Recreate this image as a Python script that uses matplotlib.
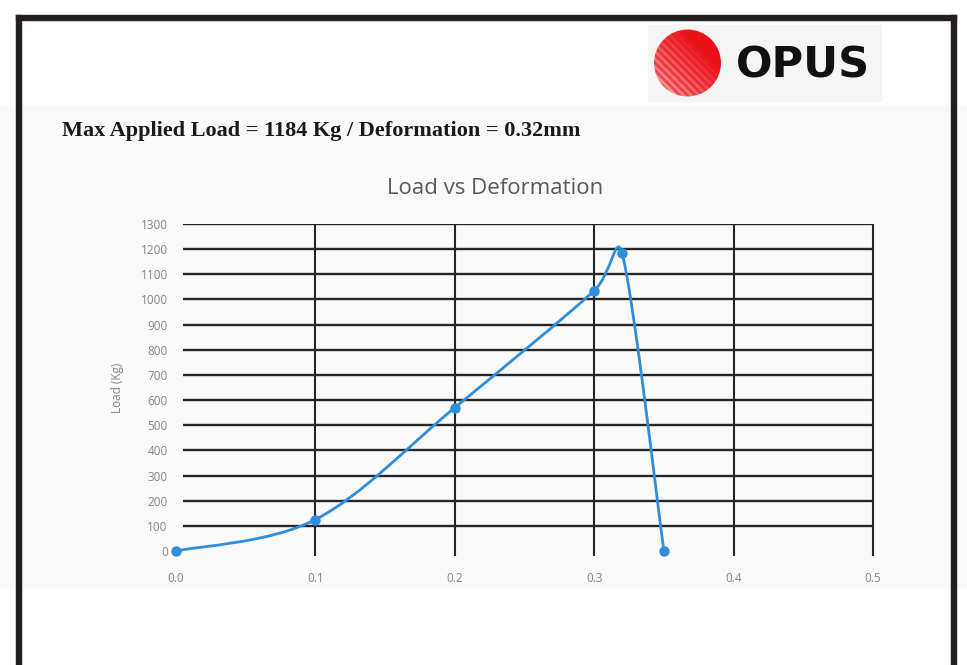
import numpy as np
import matplotlib
matplotlib.use("Agg")
import matplotlib.pyplot as plt
from matplotlib.path import Path
from matplotlib.patches import PathPatch, Rectangle, Circle
from matplotlib.lines import Line2D

# ---- data ----
deformation = [0.0, 0.1, 0.2, 0.3, 0.32, 0.35]
load = [0, 125, 570, 1035, 1184, 0]
x_ticks = [0.0, 0.1, 0.2, 0.3, 0.4, 0.5]
x_tick_labels = ["0.0", "0.1", "0.2", "0.3", "0.4", "0.5"]
y_ticks = list(range(0, 1400, 100))
y_tick_labels = [str(v) for v in y_ticks]
chart_title = "Load vs Deformation"
y_label = "Load (Kg)"
header = "Max Applied Load = 1184 Kg / Deformation = 0.32mm"
logo_text = "OPUS"

W, H = 967, 665
fig = plt.figure(figsize=(W / 100, H / 100), dpi=100)
fig.patch.set_facecolor("white")

def fx(px):
    return px / W

def fy(py):
    return 1 - py / H

# pasted region background
fig.patches.append(Rectangle((0, fy(588)), 1, fy(105) - fy(588), transform=fig.transFigure,
                             facecolor="#fafafa", edgecolor="none", zorder=-2))
# logo background
fig.patches.append(Rectangle((fx(648), fy(102)), fx(882) - fx(648), fy(25) - fy(102),
                             transform=fig.transFigure, facecolor="#f5f5f5", edgecolor="none", zorder=-2))

# border frame
bc = "#231f20"
lw = 4.6
for xs, ys in [([fx(19), fx(19)], [fy(18), -0.01]),
               ([fx(953.5), fx(953.5)], [fy(18), -0.01]),
               ([fx(19), fx(953.5)], [fy(18), fy(18)])]:
    fig.add_artist(Line2D(xs, ys, transform=fig.transFigure, color=bc, lw=lw,
                          solid_capstyle="projecting"))

# logo: red sphere with gradient + stripes
lax = fig.add_axes([fx(653), fy(98), fx(722) - fx(653), fy(28) - fy(98)])
lax.set_xlim(-1, 1)
lax.set_ylim(-1, 1)
lax.axis("off")
n = 300
gx, gy = np.meshgrid(np.linspace(-1, 1, n), np.linspace(-1, 1, n))
d = (gx + gy) / 2.0
t = np.clip((d + 0.8) / 1.2, 0, 1)
stripes = 0.5 + 0.5 * np.sin((gx + gy) * 28)
fade = np.clip(1 - t, 0, 1)
white_mix = fade * (0.25 + 0.6 * stripes) * 0.85
red = np.array([0.92, 0.07, 0.10])
img = red[None, None, :] * (1 - white_mix[..., None]) + white_mix[..., None] * np.array([1, 0.93, 0.93])
im = lax.imshow(img, extent=(-1, 1, -1, 1), origin="lower", interpolation="bilinear")
clip = Circle((0, 0), 0.97, transform=lax.transData)
im.set_clip_path(clip)
fig.text(fx(803), fy(66), logo_text, ha="center", va="center", fontsize=31, fontweight="bold",
         family="DejaVu Sans", color="#111111")

# header
fig.text(fx(62), fy(131), header, ha="left", va="center", fontsize=16, fontweight="bold",
         family="Liberation Serif", color="#1a1a1a")

# title
fig.text(fx(495), fy(188), chart_title, ha="center", va="center", fontsize=16,
         family="Open Sans", color="#595959")

# axes
ax = fig.add_axes([fx(176), fy(551), fx(873) - fx(176), fy(224) - fy(551)])
ax.set_facecolor("none")
ax.set_xlim(0, 0.5)
ax.set_ylim(0, 1300)
for s in ax.spines.values():
    s.set_visible(False)
ax.set_xticks(x_ticks)
ax.set_xticklabels(x_tick_labels)
ax.set_yticks(y_ticks)
ax.set_yticklabels(y_tick_labels)
ax.tick_params(length=0, labelsize=8.5, labelcolor="#858585")
ax.tick_params(axis="y", pad=6)
ax.tick_params(axis="x", pad=15)
for lab in ax.get_xticklabels() + ax.get_yticklabels():
    lab.set_family("Open Sans")
ax.set_ylabel(y_label, fontsize=8.5, color="#858585", family="Open Sans", labelpad=12)

gc = "#262626"
ax.hlines(y_ticks[1:], 0.005, 0.5, colors=gc, lw=1.7, zorder=1)
ax.vlines(x_ticks[1:], -20, 1300, colors=gc, lw=1.5, zorder=1, clip_on=False)

# smoothed line (Excel-like Bezier), computed in display space
fig.canvas.draw()
P = ax.transData.transform(np.column_stack([deformation, load]))
npts = len(P)
verts = [P[0]]
codes = [Path.MOVETO]

def tangent(i):
    a = P[max(i - 1, 0)]
    b = P[min(i + 1, npts - 1)]
    return (b - a) / 6.0

for i in range(npts - 1):
    seg = np.linalg.norm(P[i + 1] - P[i])
    t0 = tangent(i)
    t1 = tangent(i + 1)
    l0 = np.linalg.norm(t0)
    if l0 > seg / 2:
        t0 = t0 * (seg / 2) / l0
    l1 = np.linalg.norm(t1)
    if l1 > seg / 2:
        t1 = t1 * (seg / 2) / l1
    verts += [P[i] + t0, P[i + 1] - t1, P[i + 1]]
    codes += [Path.CURVE4] * 3

path = Path(ax.transData.inverted().transform(np.array(verts)), codes)
blue = "#2f8ddb"
ax.add_patch(PathPatch(path, facecolor="none", edgecolor=blue, lw=2.0, zorder=3, clip_on=False))
ax.plot(deformation, load, linestyle="none", marker="o", markersize=6.5, color=blue, zorder=4, clip_on=False)

fig.savefig("out.png", dpi=100)
